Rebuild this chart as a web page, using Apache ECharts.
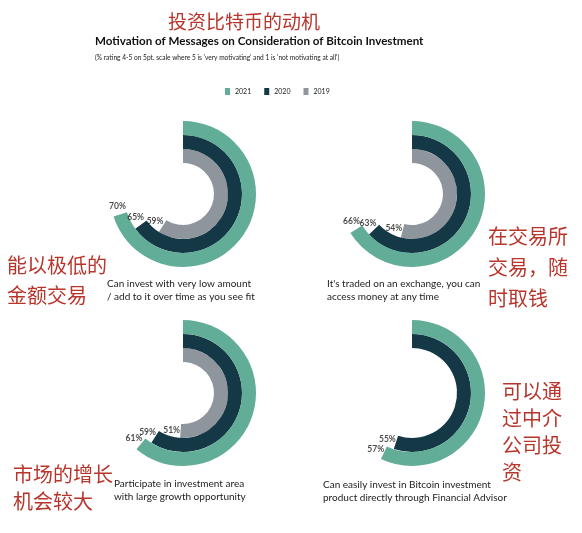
<!DOCTYPE html>
<html>
<head>
<meta charset="utf-8">
<script src="https://cdn.jsdelivr.net/npm/echarts@6/dist/echarts.min.js"></script>
<style>
html,body{margin:0;padding:0;background:#fff;}
#main{width:582px;height:533px;}
</style>
</head>
<body>
<div id="main"></div>
<script>
// ---- data ----
const years = ['2019', '2020', '2021'];
const legendYears = ['2021', '2020', '2019'];
const categories = [
  'Can invest with very low amount\n/ add to it over time as you see fit',
  "It's traded on an exchange, you can\naccess money at any time",
  'Participate in investment area\nwith large growth opportunity',
  'Can easily invest in Bitcoin investment\nproduct directly through Financial Advisor'
];
const values2021 = [70, 66, 61, 57];
const values2020 = [65, 63, 59, 55];
const values2019 = [59, 54, 51, null];
const notesCN = [
  '能以极低的\n金额交易',
  '在交易所\n交易，随\n时取钱',
  '市场的增长\n机会较大',
  '可以通\n过中介\n公司投\n资'
];
const titleCN = '投资比特币的动机';
const titleEN = 'Motivation of Messages on Consideration of Bitcoin Investment';
const subtitleEN = "(% rating 4-5 on 5pt. scale where 5 is 'very motivating' and 1 is 'not motivating at all')";

// ---- layout / style ----
const colors = {'2021': '#62ad97', '2020': '#143845', '2019': '#8f959c'};
const centers = [[183, 194], [412, 194], [183, 393], [412, 393]];
const catPos = [[107, 277], [327, 277], [114, 477], [323, 478]];
const notePos = [
  {left: 7, top: 250, lh: 30},
  {left: 488, top: 221, lh: 31},
  {left: 13, top: 461, lh: 27},
  {left: 502, top: 378, lh: 27}
];
const valuesByYear = {'2021': values2021, '2020': values2020, '2019': values2019};
const enFont = 'Lato, "Open Sans", sans-serif';
const cnFont = '"Noto Sans CJK SC", sans-serif';
const red = '#b8352c';
const LABEL_SHIFT = 9; // px, along arc direction past the end

function labelOffset(v) {
  const t = v / 100 * 2 * Math.PI;
  return [Math.cos(t) * LABEL_SHIFT, Math.sin(t) * LABEL_SHIFT];
}

const polar = [], angleAxis = [], radiusAxis = [], series = [], title = [];
centers.forEach((c, i) => {
  polar.push({center: c, radius: [31, 73]});
  angleAxis.push({polarIndex: i, type: 'value', min: 0, max: 100, startAngle: 90, clockwise: true, show: false});
  radiusAxis.push({polarIndex: i, type: 'category', data: years, show: false});
  const labelData = [];
  years.forEach((y, k) => {
    const v = valuesByYear[y][i];
    if (v == null) return;
    const data = years.map(yy => (yy === y ? v : '-'));
    series.push({
      type: 'bar', name: y, coordinateSystem: 'polar', polarIndex: i,
      stack: 'p' + i, barCategoryGap: '0%', data: data,
      itemStyle: {color: colors[y]},
      emphasis: {disabled: true}
    });
    labelData.push({value: [k, v], label: {offset: labelOffset(v)}});
  });
  series.push({
    type: 'scatter', coordinateSystem: 'polar', polarIndex: i,
    symbolSize: 0, data: labelData, z: 5, silent: true,
    label: {
      show: true, position: 'inside',
      formatter: p => p.value[1] + '%',
      fontSize: 8.5, fontWeight: 'bold', color: '#1a1a1a', fontFamily: enFont
    }
  });
  title.push({
    text: categories[i], left: catPos[i][0], top: catPos[i][1], padding: 0,
    textStyle: {fontSize: 10, fontWeight: 'normal', color: '#222', lineHeight: 13, fontFamily: enFont}
  });
  title.push({
    text: notesCN[i], left: notePos[i].left, top: notePos[i].top, padding: 0,
    textStyle: {fontSize: 20, fontWeight: 'normal', color: red, lineHeight: notePos[i].lh, fontFamily: cnFont}
  });
});
title.push({
  text: titleCN, left: 168, top: 11, padding: 0,
  textStyle: {fontSize: 19, fontWeight: 'normal', color: red, lineHeight: 22, fontFamily: cnFont}
});
title.push({
  text: titleEN, left: 95, top: 35, padding: 0,
  textStyle: {fontSize: 11.6, fontWeight: 'bold', color: '#111', fontFamily: enFont}
});
title.push({
  text: subtitleEN, left: 95, top: 54, padding: 0,
  textStyle: {fontSize: 6.6, fontWeight: 'normal', color: '#222', fontFamily: enFont}
});

const chart = echarts.init(document.getElementById('main'), null, {renderer: 'canvas'});
chart.setOption({
  backgroundColor: '#fff',
  animation: false,
  title: title,
  legend: {
    data: legendYears, left: 225, top: 88, padding: 0,
    icon: 'rect', itemWidth: 5, itemHeight: 7, itemGap: 13,
    textStyle: {fontSize: 7, color: '#222', fontFamily: enFont, padding: [0, 0, 0, 0]}
  },
  polar: polar,
  angleAxis: angleAxis,
  radiusAxis: radiusAxis,
  series: series
});
</script>
</body>
</html>
